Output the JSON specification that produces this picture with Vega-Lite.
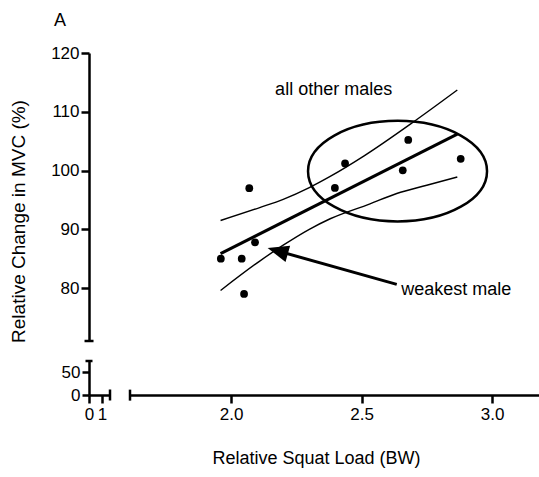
{
  "$schema": "https://vega.github.io/schema/vega-lite/v6.json",
  "width": 409,
  "height": 288,
  "autosize": {"type": "none"},
  "padding": {"left": 130, "top": 53, "right": 0, "bottom": 136},
  "background": "white",
  "title": {"text": "A", "anchor": "start", "frame": "group", "dx": -76, "offset": 0, "fontSize": 18, "fontWeight": "normal", "font": "Liberation Sans", "color": "black", "baseline": "alphabetic"},
  "config": {
    "view": {"stroke": null},
    "font": "Liberation Sans",
    "axis": {"domainColor": "black", "domainWidth": 2.5, "tickColor": "black", "tickWidth": 2.5, "tickSize": 8, "labelColor": "black", "labelFontSize": 17, "labelFont": "Liberation Sans", "titleFont": "Liberation Sans", "titleFontSize": 18, "titleFontWeight": "normal", "titleColor": "black", "grid": false, "labelPadding": 2, "labelOverlap": false, "labelFlush": false}
  },
  "datasets": {
    "points": [
      {"x": 2.07, "y": 97}, {"x": 2.437, "y": 101.2}, {"x": 2.398, "y": 97.05}, {"x": 2.679, "y": 105.2},
      {"x": 2.658, "y": 100.05}, {"x": 2.88, "y": 102}, {"x": 2.092, "y": 87.8}, {"x": 1.961, "y": 85},
      {"x": 2.041, "y": 85}, {"x": 2.05, "y": 79}
    ],
    "fit": [{"x": 1.96, "y": 85.86}, {"x": 2.867, "y": 106.2}],
    "ci": [
      {"series": "upper", "x": 1.96, "y": 91.5}, {"series": "upper", "x": 2.11, "y": 93.7}, {"series": "upper", "x": 2.2, "y": 95.1},
      {"series": "upper", "x": 2.3, "y": 97.1}, {"series": "upper", "x": 2.38, "y": 99.0}, {"series": "upper", "x": 2.51, "y": 102.5},
      {"series": "upper", "x": 2.7, "y": 108.3}, {"series": "upper", "x": 2.867, "y": 113.7},
      {"series": "lower", "x": 1.96, "y": 79.6}, {"series": "lower", "x": 2.11, "y": 84.6}, {"series": "lower", "x": 2.2, "y": 87.3},
      {"series": "lower", "x": 2.3, "y": 90.0}, {"series": "lower", "x": 2.38, "y": 91.8}, {"series": "lower", "x": 2.53, "y": 94.3},
      {"series": "lower", "x": 2.635, "y": 96.1}, {"series": "lower", "x": 2.75, "y": 97.5}, {"series": "lower", "x": 2.867, "y": 98.9}
    ],
    "ellipse": [{"x": 2.638, "y": 99.9}],
    "arrow": [{"x": 2.179, "y": 86.32, "x2": 2.635, "y2": 80.64}],
    "notes": [{"x": 2.169, "y": 112.85, "label": "all other males"}, {"x": 2.652, "y": 78.77, "label": "weakest male"}],
    "capsH": [{"x": 1.456, "y": 71}],
    "capsV": [{"x": 1.613, "y": 61.79}],
    "caps2H": [{"x": 0, "y": 74}],
    "caps2V": [{"x": 1.615, "y": 0}]
  },
  "layer": [
    {
      "layer": [
        {
          "data": {"name": "ci"},
          "mark": {"type": "line", "color": "black", "strokeWidth": 1.4, "interpolate": "monotone"},
          "encoding": {
            "x": {"field": "x", "type": "quantitative", "scale": {"domain": [1.613, 3.18], "nice": false, "zero": false},
              "axis": {"title": "Relative Squat Load (BW)", "values": [2.0, 2.5, 3.0], "format": ".1f", "offset": 54, "orient": "bottom", "titleX": 186, "titleY": 68, "titleBaseline": "alphabetic", "titleAlign": "center", "labelPadding": 3}},
            "y": {"field": "y", "type": "quantitative", "scale": {"domain": [71, 120], "nice": false, "zero": false},
              "axis": {"title": "Relative Change in MVC (%)", "values": [80, 90, 100, 110, 120], "offset": 41, "orient": "left", "titleX": -65, "titleY": 168, "titleAngle": -90, "titleBaseline": "alphabetic", "titleAlign": "center", "titleFontSize": 19}},
            "detail": {"field": "series", "type": "nominal"}
          }
        },
        {
          "data": {"name": "fit"},
          "mark": {"type": "line", "color": "black", "strokeWidth": 3},
          "encoding": {"x": {"field": "x", "type": "quantitative"}, "y": {"field": "y", "type": "quantitative"}}
        },
        {
          "data": {"name": "ellipse"},
          "mark": {"type": "point", "shape": "M -1 0 A 1 0.562 0 1 1 1 0 A 1 0.562 0 1 1 -1 0 Z", "size": 32041, "filled": false, "stroke": "black", "strokeWidth": 2.5, "opacity": 1},
          "encoding": {"x": {"field": "x", "type": "quantitative"}, "y": {"field": "y", "type": "quantitative"}}
        },
        {
          "data": {"name": "points"},
          "mark": {"type": "point", "shape": "circle", "filled": true, "color": "black", "size": 60, "opacity": 1},
          "encoding": {"x": {"field": "x", "type": "quantitative"}, "y": {"field": "y", "type": "quantitative"}}
        },
        {
          "data": {"name": "arrow"},
          "mark": {"type": "rule", "color": "black", "strokeWidth": 3},
          "encoding": {"x": {"field": "x", "type": "quantitative"}, "y": {"field": "y", "type": "quantitative"}, "x2": {"field": "x2"}, "y2": {"field": "y2"}}
        },
        {
          "data": {"name": "arrow"},
          "mark": {"type": "point", "shape": "M -1 0 L 1 -0.8 L 1 0.8 Z", "size": 441, "filled": true, "color": "black", "angle": 16, "opacity": 1},
          "encoding": {"x": {"field": "x", "type": "quantitative"}, "y": {"field": "y", "type": "quantitative"}}
        },
        {
          "data": {"name": "notes"},
          "mark": {"type": "text", "align": "left", "baseline": "alphabetic", "fontSize": 18, "color": "black", "font": "Liberation Sans"},
          "encoding": {"x": {"field": "x", "type": "quantitative"}, "y": {"field": "y", "type": "quantitative"}, "text": {"field": "label"}}
        },
        {
          "data": {"name": "capsH"},
          "mark": {"type": "tick", "orient": "horizontal", "size": 9, "thickness": 2.5, "color": "black", "opacity": 1},
          "encoding": {"x": {"field": "x", "type": "quantitative"}, "y": {"field": "y", "type": "quantitative"}}
        },
        {
          "data": {"name": "capsV"},
          "mark": {"type": "tick", "orient": "vertical", "size": 11, "thickness": 2.5, "color": "black", "opacity": 1},
          "encoding": {"x": {"field": "x", "type": "quantitative"}, "y": {"field": "y", "type": "quantitative"}}
        }
      ]
    },
    {
      "layer": [
        {
          "data": {"name": "caps2H"},
          "mark": {"type": "tick", "orient": "horizontal", "size": 7, "thickness": 2.5, "color": "black", "opacity": 1},
          "encoding": {
            "x": {"field": "x", "type": "quantitative", "scale": {"domain": [0, 1.615], "range": [-41, -20], "nice": false, "zero": false},
              "axis": {"title": null, "values": [0, 1], "format": "d", "offset": 54, "orient": "bottom", "labelPadding": 3}},
            "y": {"field": "y", "type": "quantitative", "scale": {"domain": [0, 74], "range": [342, 308], "nice": false, "zero": false},
              "axis": {"title": null, "values": [0, 50], "format": "d", "offset": 41, "orient": "left", "tickSize": 7}}
          }
        },
        {
          "data": {"name": "caps2V"},
          "mark": {"type": "tick", "orient": "vertical", "size": 11, "thickness": 2.5, "color": "black", "opacity": 1},
          "encoding": {"x": {"field": "x", "type": "quantitative"}, "y": {"field": "y", "type": "quantitative"}}
        }
      ]
    }
  ],
  "resolve": {"scale": {"x": "independent", "y": "independent"}, "axis": {"x": "independent", "y": "independent"}}
}
